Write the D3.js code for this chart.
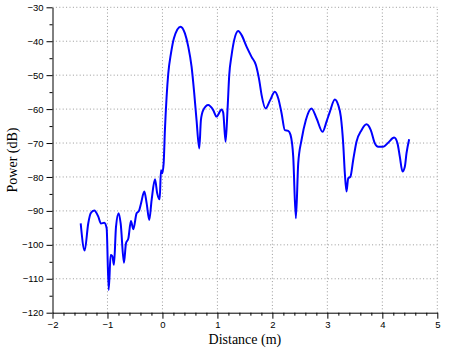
<!DOCTYPE html>
<html>
<head>
<meta charset="utf-8">
<script src="https://cdn.jsdelivr.net/npm/d3@7"></script>
<style>
body { margin: 0; background: #fff; }
svg { display: block; }
</style>
</head>
<body>
<svg id="chart" width="455" height="351"></svg>
<script>
const distance = [-1.487,-1.415,-1.35,-1.305,-1.24,-1.167,-1.118,-1.058,-1.015,-0.978,-0.942,-0.912,-0.882,-0.845,-0.797,-0.76,-0.70,-0.664,-0.62,-0.573,-0.53,-0.47,-0.427,-0.39,-0.33,-0.287,-0.24,-0.197,-0.136,-0.095,-0.05,-0.027,-0.004,0.022,0.045,0.076,0.106,0.155,0.209,0.33,0.409,0.47,0.53,0.578,0.62,0.67,0.70,0.742,0.833,0.924,0.985,1.076,1.105,1.149,1.185,1.215,1.258,1.306,1.379,1.44,1.53,1.621,1.70,1.76,1.803,1.876,1.955,2.045,2.106,2.167,2.227,2.288,2.33,2.379,2.427,2.47,2.53,2.609,2.712,2.803,2.912,2.985,3.045,3.136,3.197,3.245,3.288,3.318,3.348,3.379,3.42,3.47,3.53,3.621,3.712,3.79,3.864,3.924,4.015,4.106,4.215,4.276,4.318,4.367,4.409,4.44,4.488];
const power = [-93.7,-101.7,-93.7,-90.7,-89.9,-91.7,-93.7,-93.5,-95.1,-113.3,-103.0,-103.3,-105.9,-94.7,-90.7,-93.7,-105.3,-99.6,-98.1,-93.0,-95.4,-90.7,-90.0,-87.8,-84.3,-87.8,-92.7,-86.8,-80.7,-84.8,-86.6,-78.0,-78.9,-76.0,-66.2,-56.3,-49.5,-43.6,-39.1,-35.7,-37.7,-41.6,-47.5,-55.3,-63.2,-71.6,-63.2,-60.3,-58.8,-60.3,-62.2,-60.1,-61.0,-69.6,-59.8,-50.0,-44.1,-39.6,-37.0,-38.2,-41.6,-44.6,-47.0,-51.4,-55.8,-59.8,-57.5,-54.9,-56.8,-61.2,-66.2,-66.4,-67.6,-74.0,-92.2,-76.0,-69.1,-63.2,-59.8,-62.7,-66.7,-63.7,-60.8,-57.2,-58.8,-62.2,-70.1,-78.9,-84.3,-80.4,-79.9,-75.0,-69.6,-66.2,-64.5,-66.2,-70.1,-71.1,-71.1,-69.9,-68.4,-70.1,-74.0,-78.4,-77.0,-73.0,-68.9];
const xTicks = [-2,-1,0,1,2,3,4,5];
const yTicks = [-120,-110,-100,-90,-80,-70,-60,-50,-40,-30];
const xLabel = "Distance (m)";
const yLabel = "Power (dB)";

const W = 455, H = 351;
const m = {left: 52.5, right: 17.7, top: 7.3, bottom: 38.3};
const svg = d3.select("#chart");
const x = d3.scaleLinear().domain([-2, 5]).range([m.left, W - m.right]);
const y = d3.scaleLinear().domain([-120, -30]).range([H - m.bottom, m.top]);

// grid
const grid = svg.append("g").attr("stroke", "#999").attr("stroke-width", 1).attr("stroke-dasharray", "1,2.4");
grid.selectAll(".gx").data(xTicks.slice(1)).join("line")
  .attr("x1", d => x(d)).attr("x2", d => x(d)).attr("y1", y(-120)).attr("y2", y(-30));
grid.selectAll(".gy").data(yTicks.slice(1)).join("line")
  .attr("x1", x(-2)).attr("x2", x(5)).attr("y1", d => y(d)).attr("y2", d => y(d));

// minor ticks
const xMinor = d3.range(-2, 5.0001, 0.2).filter(v => Math.abs(v - Math.round(v)) > 1e-6);
const yMinor = d3.range(-115, -30, 10);

const fmt = d => d3.format("d")(d);
const xAxis = svg.append("g").attr("transform", `translate(0,${y(-120)})`)
  .call(d3.axisBottom(x).tickValues(xTicks).tickSize(6).tickSizeOuter(0).tickFormat(fmt).tickPadding(3));
svg.append("g").attr("transform", `translate(0,${y(-120)})`)
  .call(d3.axisBottom(x).tickValues(xMinor).tickSize(3).tickSizeOuter(0).tickFormat(""))
  .call(g => g.select(".domain").remove());
const yAxis = svg.append("g").attr("transform", `translate(${x(-2)},0)`)
  .call(d3.axisLeft(y).tickValues(yTicks).tickSize(6).tickSizeOuter(0).tickFormat(fmt).tickPadding(3));
svg.append("g").attr("transform", `translate(${x(-2)},0)`)
  .call(d3.axisLeft(y).tickValues(yMinor).tickSize(3).tickSizeOuter(0).tickFormat(""))
  .call(g => g.select(".domain").remove());

svg.selectAll(".tick text").attr("font-family", "Liberation Sans, Arial, sans-serif").attr("font-size", 9.5).attr("fill", "#000");
svg.selectAll(".domain, .tick line").attr("stroke", "#000");

// line
const pts = distance.map((d, i) => [d, power[i]]);
svg.append("path").datum(pts)
  .attr("fill", "none").attr("stroke", "#0000ff").attr("stroke-width", 2)
  .attr("stroke-linejoin", "round")
  .attr("d", d3.line().x(d => x(d[0])).y(d => y(d[1])).curve(d3.curveMonotoneX));

// labels
svg.append("text").attr("x", (x(-2) + x(5)) / 2).attr("y", 344)
  .attr("text-anchor", "middle").attr("font-family", "Liberation Serif, Times New Roman, serif")
  .attr("font-size", 14).text(xLabel);
svg.append("text").attr("transform", `translate(17,${(y(-120) + y(-30)) / 2}) rotate(-90)`)
  .attr("text-anchor", "middle").attr("font-family", "Liberation Serif, Times New Roman, serif")
  .attr("font-size", 14).text(yLabel);
</script>
</body>
</html>
